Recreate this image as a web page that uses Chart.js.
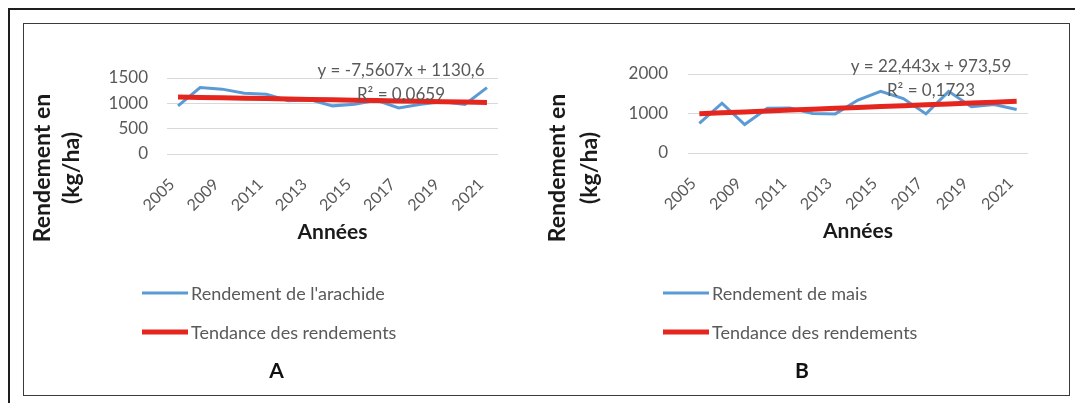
<!DOCTYPE html>
<html>
<head>
<meta charset="utf-8">
<script src="https://cdn.jsdelivr.net/npm/chart.js@4.4.0/dist/chart.umd.min.js"></script>
<style>
  body { margin: 0; background: #fff; width: 1075px; height: 403px; overflow: hidden; position: relative; }
  #outer { position: absolute; left: 8px; top: 8px; width: 1100px; height: 420px; border-top: 2px solid #1e1e1e; border-left: 2px solid #1e1e1e; }
  #inner { position: absolute; left: 23px; top: 23px; width: 1045px; height: 371px; border: 1px solid #3a3a3a; }
  canvas { position: absolute; top: 25px; }
  #chartA { left: 25px; }
  #chartB { left: 547px; }
</style>
</head>
<body>
<div id="outer"></div>
<div id="inner"></div>
<canvas id="chartA" width="522" height="369"></canvas>
<canvas id="chartB" width="521" height="369"></canvas>
<script>
// categories (every other one is labelled on the axis)
const years = ['2005', '2008', '2009', '2010', '2011', '2012', '2013', '2014', '2015', '2016', '2017', '2018', '2019', '2020', '2021'];

// A - arachide
const arachide = [950, 1310, 1280, 1200, 1180, 1050, 1070, 950, 980, 1060, 910, 980, 1030, 980, 1310];
const arachideTrend = [1123, 1115, 1108, 1100, 1093, 1085, 1078, 1070, 1063, 1055, 1047, 1040, 1032, 1025, 1017];
const yTicksA = [0, 500, 1000, 1500];
const equationA = ['y = -7,5607x + 1130,6', 'R² = 0,0659'];

// B - mais
const mais = [750, 1260, 720, 1130, 1140, 1000, 990, 1340, 1560, 1380, 990, 1560, 1170, 1230, 1100];
const maisTrend = [996, 1018, 1041, 1063, 1086, 1108, 1131, 1153, 1175, 1198, 1220, 1243, 1265, 1287, 1310];
const yTicksB = [0, 1000, 2000];
const equationB = ['y = 22,443x + 973,59', 'R² = 0,1723'];

const trendLabel = 'Tendance des rendements';
const yTitle = ['Rendement en', '(kg/ha)'];

const BLUE = '#5b9bd5';
const RED = '#e5261f';
const GREY = '#595959';

// draws axis title, trendline equation, legend and panel letter
const panelDecor = {
    id: 'panelDecor',
    afterDraw(chart, args, opts) {
        const ctx = chart.ctx;
        const a = chart.chartArea;
        ctx.save();
        ctx.textAlign = 'center';
        ctx.textBaseline = 'middle';

        ctx.fillStyle = '#1a1a1a';
        ctx.font = 'bold 23px Lato';
        opts.yTitle.forEach((t, i) => {
            ctx.save();
            ctx.translate(opts.titleX[i], 143);
            ctx.rotate(-Math.PI / 2);
            ctx.fillText(t, 0, 0);
            ctx.restore();
        });

        ctx.fillStyle = GREY;
        ctx.font = '17px Lato';
        ctx.fillText(opts.equation[0], a.right - 97, a.top - 7);
        ctx.fillText(opts.equation[1], a.right - 97, a.top + 17);

        // legend, one row per dataset
        ctx.textAlign = 'left';
        ctx.font = '18px Lato';
        chart.data.datasets.forEach((ds, i) => {
            const y = 268 + i * 39;
            const x0 = a.left - 25;
            ctx.strokeStyle = ds.borderColor;
            ctx.lineWidth = ds.borderWidth;
            ctx.beginPath();
            ctx.moveTo(x0, y);
            ctx.lineTo(x0 + 46, y);
            ctx.stroke();
            ctx.fillText(ds.label, x0 + 49, y + 1);
        });

        ctx.fillStyle = '#111';
        ctx.font = 'bold 21px Lato';
        ctx.textAlign = 'center';
        ctx.fillText(opts.letter, (a.left + a.right) / 2 - 56, 346);
        ctx.restore();
    }
};

function makeChart(id, values, seriesLabel, trend, yTicks, equation, letter, box) {
    return new Chart(document.getElementById(id), {
        type: 'line',
        data: {
            labels: years,
            datasets: [
                { label: seriesLabel, data: values, borderColor: BLUE, borderWidth: 3, pointRadius: 0, tension: 0, order: 1 },
                { label: trendLabel, data: trend, borderColor: RED, borderWidth: 5, pointRadius: 0, tension: 0, order: 0 }
            ]
        },
        options: {
            responsive: false,
            animation: false,
            devicePixelRatio: 1,
            layout: { padding: { left: 0, right: box.right, top: box.top, bottom: box.bottom } },
            scales: {
                x: {
                    offset: true,
                    grid: { display: false },
                    border: { display: false },
                    ticks: {
                        autoSkip: false,
                        minRotation: 45,
                        maxRotation: 45,
                        padding: 13,
                        labelOffset: -6,
                        color: GREY,
                        font: { family: 'Lato', size: 16 },
                        callback: function (v, i) { return i % 2 === 0 ? this.getLabelForValue(v) : ''; }
                    },
                    title: {
                        display: true,
                        text: 'Années',
                        color: '#1a1a1a',
                        font: { family: 'Lato', size: 21, weight: 'bold' },
                        padding: { top: 0, bottom: 4 }
                    },
                    afterFit(s) { s.height = 95; }
                },
                y: {
                    min: yTicks[0],
                    max: yTicks[yTicks.length - 1],
                    afterBuildTicks(s) { s.ticks = yTicks.map(v => ({ value: v })); },
                    ticks: {
                        padding: box.tickPad,
                        color: GREY,
                        font: { family: 'Lato', size: 17 },
                        callback: v => String(v)
                    },
                    grid: { color: '#d9d9d9', drawTicks: false, lineWidth: 1 },
                    border: { display: false },
                    afterFit(s) { s.width = box.yWidth; }
                }
            },
            plugins: {
                legend: { display: false },
                tooltip: { enabled: false },
                panelDecor: { yTitle: yTitle, titleX: box.titleX, equation: equation, letter: letter }
            }
        },
        plugins: [panelDecor]
    });
}

makeChart('chartA', arachide, "Rendement de l'arachide", arachideTrend, yTicksA, equationA, 'A',
    { right: 49, top: 53, bottom: 145, tickPad: 19, yWidth: 142, titleX: [18, 47] });
makeChart('chartB', mais, 'Rendement de mais', maisTrend, yTicksB, equationB, 'B',
    { right: 40, top: 49, bottom: 146, tickPad: 20, yWidth: 141, titleX: [11, 43] });
</script>
</body>
</html>
